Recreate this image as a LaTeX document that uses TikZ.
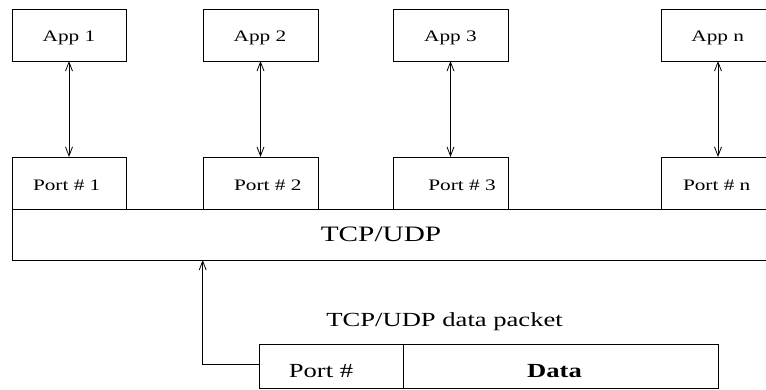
\documentclass[tikz,border=0pt]{standalone}
\usepackage{fontspec}
\setmainfont{Liberation Serif}[FakeStretch=1.33]
\usetikzlibrary{arrows.meta}
\begin{document}
\begin{tikzpicture}[x=1pt,y=-1pt,
  line width=0.8pt,
  >={Straight Barb[length=9pt,width=7pt]},
  box/.style={draw, minimum width=#1, minimum height=52pt, inner sep=0pt, outer sep=0pt},
  txt/.style={anchor=base, inner sep=0pt, font=\fontsize{16}{18}\selectfont},
  bigtxt/.style={anchor=base, inner sep=0pt, font=\fontsize{22}{24}\selectfont},
  pkttxt/.style={anchor=base, inner sep=0pt, font=\fontsize{20}{22}\selectfont}]
\useasboundingbox (0,0) rectangle (766,390);
\clip (0,0) rectangle (766,390);

% application boxes
\node[box=114pt] (app1) at (69,35) {};
\node[box=115pt] (app2) at (260.5,35) {};
\node[box=115pt] (app3) at (450.5,35) {};
\node[box=114pt] (appn) at (718,35) {};
\node[txt] (app1t) at (69,42) {App 1};
\node[txt] (app2t) at (260,42) {App 2};
\node[txt] (app3t) at (450.5,42) {App 3};
\node[txt] (appnt) at (717.7,42) {App n};

% port boxes
\node[box=114pt] (port1) at (69,183) {};
\node[box=115pt] (port2) at (260.5,183) {};
\node[box=115pt] (port3) at (450.5,183) {};
\node[box=114pt] (portn) at (718,183) {};
\node[txt] (port1t) at (66.7,190.5) {Port \# 1};
\node[txt] (port2t) at (267.8,190.5) {Port \# 2};
\node[txt] (port3t) at (462,190.5) {Port \# 3};
\node[txt] (portnt) at (716.7,190.5) {Port \# n};

% TCP/UDP layer
\node[draw, minimum width=763pt, minimum height=51pt, inner sep=0pt, outer sep=0pt] (tcp) at (393.5,234.5) {};
\node[bigtxt] (tcpt) at (381,241.7) {TCP/UDP};

% arrows app <-> port
\draw[<->] (app1) -- (port1);
\draw[<->] (app2) -- (port2);
\draw[<->] (app3) -- (port3);
\draw[<->] (appn) -- (portn);

% data packet
\node[pkttxt] (caption) at (444.6,326) {TCP/UDP data packet};
\node[draw, minimum width=144pt, minimum height=44.5pt, inner sep=0pt, outer sep=0pt] (portfield) at (331.5,366.25) {};
\node[draw, minimum width=315pt, minimum height=44.5pt, inner sep=0pt, outer sep=0pt] (datafield) at (561,366.25) {};
\node[pkttxt] (portfieldt) at (321,377.3) {Port \#};
\node[pkttxt] (datafieldt) at (554.5,377.3) {\bfseries Data};

\coordinate (bend) at (202.7,364);
\draw[->] (portfield.west |- bend) -- (bend) -- (bend |- tcp.south);
\end{tikzpicture}
\end{document}
